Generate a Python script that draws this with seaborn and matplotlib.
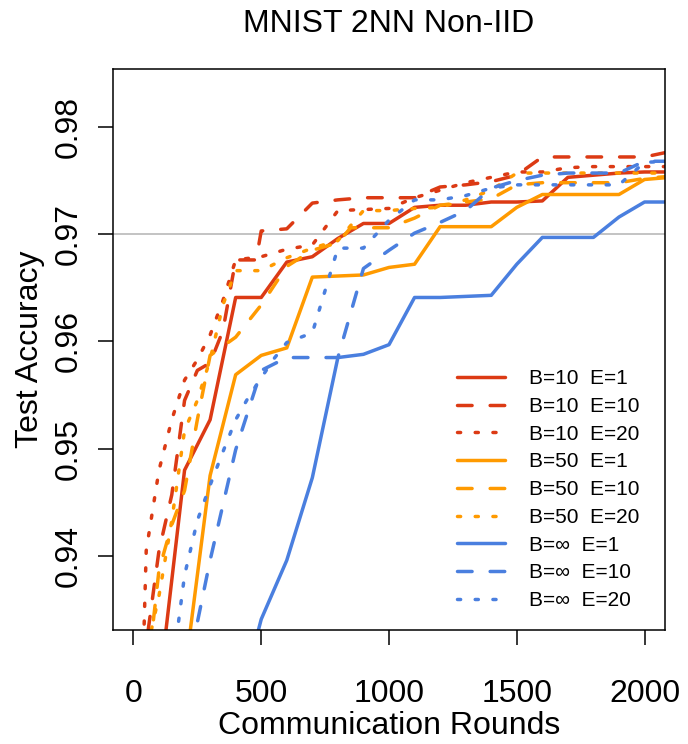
import pandas as pd
import seaborn as sns
import matplotlib
matplotlib.use('Agg')
import matplotlib.pyplot as plt

# values (rounds, test accuracy)
rounds_b10_e1 = [100, 200, 300, 400, 500, 600, 700, 800, 900, 1000, 1100, 1200, 1300, 1400, 1500, 1600, 1700, 1800, 1900, 2000, 2100]
acc_b10_e1 = [0.9275, 0.9480, 0.9527, 0.9641, 0.9641, 0.9674, 0.9679, 0.9696, 0.9710, 0.9710, 0.9725, 0.9727, 0.9727, 0.9730, 0.9730, 0.9731, 0.9753, 0.9755, 0.9757, 0.9758, 0.9758]

rounds_b10_e10 = [40, 100, 150, 200, 250, 300, 350, 400, 480, 500, 600, 700, 800, 900, 1000, 1100, 1200, 1300, 1400, 1500, 1600, 1700, 1800, 1900, 2000, 2100]
acc_b10_e10 = [0.9300, 0.9405, 0.9457, 0.9545, 0.9573, 0.9580, 0.9610, 0.9676, 0.9676, 0.9703, 0.9705, 0.9729, 0.9732, 0.9734, 0.9734, 0.9734, 0.9744, 0.9746, 0.9749, 0.9755, 0.9772, 0.9772, 0.9772, 0.9772, 0.9772, 0.9777]

rounds_b10_e20 = [40, 50, 100, 150, 200, 250, 300, 350, 400, 500, 600, 700, 800, 900, 1000, 1100, 1200, 1300, 1400, 1500, 1600, 1700, 1800, 1900, 2000, 2100]
acc_b10_e20 = [0.9320, 0.9405, 0.9480, 0.9527, 0.9564, 0.9583, 0.9606, 0.9638, 0.9676, 0.9679, 0.9686, 0.9690, 0.9722, 0.9723, 0.9724, 0.9734, 0.9741, 0.9748, 0.9753, 0.9758, 0.9758, 0.9762, 0.9763, 0.9763, 0.9763, 0.9763]

rounds_b50_e1 = [200, 300, 400, 500, 600, 700, 800, 900, 1000, 1100, 1200, 1300, 1400, 1500, 1600, 1700, 1800, 1900, 2000, 2100]
acc_b50_e1 = [0.9289, 0.9475, 0.9569, 0.9587, 0.9594, 0.9660, 0.9661, 0.9662, 0.9669, 0.9672, 0.9707, 0.9707, 0.9707, 0.9725, 0.9737, 0.9737, 0.9737, 0.9737, 0.9751, 0.9753]

rounds_b50_e10 = [50, 100, 150, 200, 250, 300, 400, 500, 600, 700, 800, 850, 900, 1000, 1100, 1200, 1300, 1400, 1500, 1600, 1700, 1800, 1900, 2000, 2100]
acc_b50_e10 = [0.9280, 0.9387, 0.9429, 0.9461, 0.9527, 0.9587, 0.9604, 0.9634, 0.9670, 0.9685, 0.9692, 0.9706, 0.9706, 0.9706, 0.9715, 0.9727, 0.9730, 0.9733, 0.9746, 0.9748, 0.9748, 0.9748, 0.9748, 0.9752, 0.9754]

rounds_b50_e20 = [70, 100, 150, 200, 250, 300, 350, 400, 500, 600, 700, 800, 900, 1000, 1100, 1200, 1300, 1400, 1500, 1600, 1700, 1800, 1900, 2000, 2100]
acc_b50_e20 = [0.9331, 0.9363, 0.9433, 0.9517, 0.9545, 0.9583, 0.9634, 0.9666, 0.9666, 0.9678, 0.9687, 0.9694, 0.9722, 0.9722, 0.9724, 0.9725, 0.9732, 0.9741, 0.9757, 0.9757, 0.9757, 0.9757, 0.9757, 0.9757, 0.9757]

rounds_binf_e1 = [400, 500, 600, 700, 800, 900, 1000, 1100, 1200, 1300, 1400, 1500, 1600, 1700, 1800, 1900, 2000, 2100]
acc_binf_e1 = [0.9250, 0.9341, 0.9396, 0.9473, 0.9585, 0.9588, 0.9597, 0.9641, 0.9641, 0.9642, 0.9643, 0.9672, 0.9697, 0.9697, 0.9697, 0.9716, 0.9730, 0.9730]

rounds_binf_e10 = [200, 300, 400, 500, 600, 700, 800, 900, 1000, 1100, 1200, 1300, 1400, 1500, 1600, 1700, 1800, 1900, 2000, 2100]
acc_binf_e10 = [0.9280, 0.9396, 0.9499, 0.9573, 0.9585, 0.9585, 0.9585, 0.9668, 0.9685, 0.9701, 0.9711, 0.9722, 0.9743, 0.9750, 0.9755, 0.9757, 0.9757, 0.9757, 0.9768, 0.9768]

rounds_binf_e20 = [150, 200, 250, 300, 350, 400, 450, 500, 550, 600, 700, 800, 900, 1000, 1100, 1200, 1300, 1400, 1500, 1600, 1700, 1800, 1900, 2000, 2100]
acc_binf_e20 = [0.9290, 0.9382, 0.9433, 0.9466, 0.9497, 0.9527, 0.9548, 0.9566, 0.9584, 0.9599, 0.9608, 0.9687, 0.9687, 0.9713, 0.9732, 0.9732, 0.9736, 0.9743, 0.9746, 0.9746, 0.9746, 0.9746, 0.9746, 0.9767, 0.9768]

labels = ['B=10  E=1', 'B=10  E=10', 'B=10  E=20',
          'B=50  E=1', 'B=50  E=10', 'B=50  E=20',
          'B=\u221e  E=1', 'B=\u221e  E=10', 'B=\u221e  E=20']
series = [(rounds_b10_e1, acc_b10_e1), (rounds_b10_e10, acc_b10_e10), (rounds_b10_e20, acc_b10_e20),
          (rounds_b50_e1, acc_b50_e1), (rounds_b50_e10, acc_b50_e10), (rounds_b50_e20, acc_b50_e20),
          (rounds_binf_e1, acc_binf_e1), (rounds_binf_e10, acc_binf_e10), (rounds_binf_e20, acc_binf_e20)]

red, orange, blue = '#dc3a14', '#ff9a00', '#4a7fdf'
colors = [red] * 3 + [orange] * 3 + [blue] * 3
styles = ['-', (0, (4.2, 5.2)), (0, (0.9, 4.2))] * 3

sns.set_style('white')
plt.rcParams['font.family'] = ['Liberation Sans', 'DejaVu Sans']
plt.rcParams['text.color'] = 'black'
plt.rcParams['axes.labelcolor'] = 'black'
plt.rcParams['xtick.color'] = 'black'
plt.rcParams['ytick.color'] = 'black'

fig = plt.figure(figsize=(6.88, 7.44), dpi=100)
ax = fig.add_axes([113 / 688, 1 - 630 / 744, 552 / 688, 561 / 744])

ax.axhline(0.97, color='#bebebe', lw=1.3, zorder=1)

for (r, a), lab, c, ls in zip(series, labels, colors, styles):
    df = pd.DataFrame({'round': r, 'acc': a})
    sns.lineplot(data=df, x='round', y='acc', ax=ax, color=c, linestyle=ls, lw=2.5,
                 label=lab, estimator=None, sort=False,
                 solid_capstyle='round', dash_capstyle='round', legend=False)

ax.set_xlim(-80, 2080)
ax.set_ylim(0.9331, 0.9854)
ax.set_xticks([0, 500, 1000, 1500, 2000])
ax.set_yticks([0.94, 0.95, 0.96, 0.97, 0.98])
ax.set_yticklabels(['0.94', '0.95', '0.96', '0.97', '0.98'])

for s in ax.spines.values():
    s.set_visible(True)
    s.set_color('black')
    s.set_linewidth(1.1)

ax.tick_params(axis='both', direction='out', length=11, width=1.1, color='black',
               labelcolor='black', labelsize=23, bottom=True, left=True)
ax.tick_params(axis='x', pad=24)
ax.tick_params(axis='y', pad=10)
for t in ax.get_yticklabels():
    t.set_rotation(90)
    t.set_va('center')

ax.set_title('MNIST 2NN Non-IID', fontsize=23, pad=27, color='black')
ax.set_xlabel('Communication Rounds', fontsize=23, labelpad=2)
ax.set_ylabel('Test Accuracy', fontsize=23, labelpad=6)

ax.legend(loc='upper left', bbox_to_anchor=(0.608, 0.48), frameon=False, fontsize=15,
          handlelength=2.3, handletextpad=1.15, labelspacing=0.42, borderaxespad=0)

fig.savefig('out.png', dpi=100)
